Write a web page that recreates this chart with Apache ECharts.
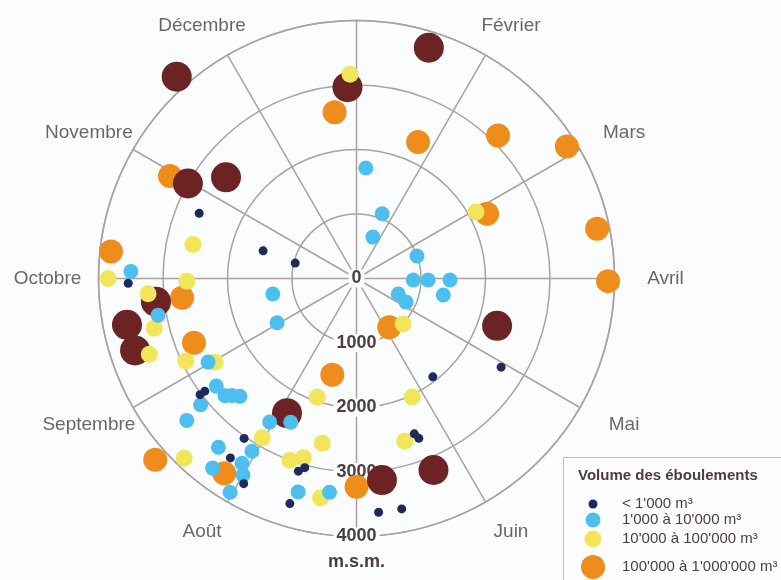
<!DOCTYPE html>
<html>
<head>
<meta charset="utf-8">
<script src="https://cdn.jsdelivr.net/npm/echarts@6/dist/echarts.min.js"></script>
<style>
  html, body { margin: 0; padding: 0; background: #fbfcfd; }
  #chart { width: 781px; height: 580px; }
</style>
</head>
<body>
<div id="chart"></div>
<script>
// Month ring, January at the top, running clockwise
const months = ['Janvier', 'Février', 'Mars', 'Avril', 'Mai', 'Juin',
                'Juillet', 'Août', 'Septembre', 'Octobre', 'Novembre', 'Décembre'];

// Altitude rings (radius axis) and unit
const altitudeTicks = [0, 1000, 2000, 3000, 4000];
const altitudeUnit = 'm.s.m.';

// Legend texts, smallest volume class first
const legendTitle = 'Volume des éboulements';
const classNames = [
  '< 1\'000 m³',
  '1\'000 à 10\'000 m³',
  '10\'000 à 100\'000 m³',
  '100\'000 à 1\'000\'000 m³',
  '> 1\'000\'000 m³'
];

// Rockfalls: [altitude in m, position in the year in months (0 = start of Janvier)]
const volUnder1k = [
  [2640, 9.75], [1510, 9.55], [980, 9.47], [3540, 8.96], [2930, 7.78], [3020, 7.78],
  [3030, 7.17], [3400, 7.17], [3630, 6.96], [3120, 6.56], [3040, 6.51], [3640, 6.55],
  [3640, 5.82], [3640, 5.63], [2570, 5.32], [2660, 5.29], [1930, 4.74], [2630, 4.05]
];
const vol1kTo10k = [
  [1720, 0.16], [1080, 0.72], [690, 0.72], [1000, 2.32], [880, 3.05], [1110, 3.04],
  [1450, 3.03], [1370, 3.36], [690, 3.68], [850, 3.85], [1320, 8.65], [1410, 8.03],
  [3500, 9.06], [3130, 8.65], [2640, 8.02], [2740, 7.75], [2730, 7.61], [2650, 7.56],
  [2570, 7.49], [3110, 7.70], [3430, 7.67], [2600, 7.04], [2450, 6.82], [3380, 7.31],
  [3130, 7.04], [3370, 7.06], [3690, 7.24], [3520, 7.00], [3850, 7.02], [3430, 6.51],
  [3340, 6.24]
];
const vol10kTo100k = [
  [3170, 11.94], [2590, 9.39], [3850, 9.00], [2630, 8.97], [3240, 8.86], [3230, 8.54],
  [3420, 8.33], [2940, 8.14], [2550, 7.98], [1940, 6.61], [2870, 7.02], [2610, 6.39],
  [3860, 7.46], [3000, 6.67], [2900, 6.55], [3450, 6.31], [2120, 2.03], [1010, 4.48],
  [2030, 5.16], [2630, 5.45]
];
const vol100kTo1M = [
  [2600, 11.75], [2320, 0.81], [3120, 1.49], [3850, 1.93], [2260, 2.12], [3810, 2.61],
  [3900, 3.02], [910, 4.87], [1540, 6.47], [3230, 6.00], [3650, 7.14], [4200, 7.60],
  [2710, 8.28], [2720, 8.79], [3830, 9.21], [3300, 9.96]
];
const volOver1M = [
  [4190, 10.61], [2970, 11.91], [3750, 0.58], [3000, 9.98], [2560, 10.26], [3130, 8.78],
  [3630, 8.62], [3610, 8.40], [2350, 6.91], [3150, 5.76], [3200, 5.27], [2300, 3.62]
];

const INK = '#4a3e3e';
const GRID = '#aaa29e';
const FONT = '"Liberation Sans", Arial, sans-serif';
const BG = '#fbfcfd';

// The angle axis runs from Juillet (bottom) round to Juillet, so the radius
// axis with its altitude labels points straight down; second-half months map to negatives.
const toAngle = m => (m >= 6 ? m - 12 : m);
const toPolar = arr => arr.map(d => [d[0], toAngle(d[1])]);

// Volume classes: draw order puts the small dots above the large ones
const classStyles = [
  { data: volUnder1k,   color: '#1c2b5c', size: 9,  z: 6 },
  { data: vol1kTo10k,   color: '#4dbfee', size: 15, z: 5 },
  { data: vol10kTo100k, color: '#f1e65a', size: 17, z: 4 },
  { data: vol100kTo1M,  color: '#ee8d1c', size: 24, z: 2 },
  { data: volOver1M,    color: '#6b2323', size: 30, z: 3 }
];

// Legend layout: marker column centre and row centres
const legendMarkerX = 593;
const legendRows = [501, 520, 539, 567, 602];

// Month labels sit on an outer ring, pushed outwards a little more on the
// left and right where the words run along the ring
const monthRingSpread = 17;
const unitClearance = 19;

const chart = echarts.init(document.getElementById('chart'), null, { renderer: 'canvas' });

const series = classStyles.map((c, i) => ({
  name: classNames[i],
  type: 'scatter',
  coordinateSystem: 'polar',
  polarIndex: 0,
  symbol: 'circle',
  symbolSize: c.size,
  clip: false,
  z: c.z,
  itemStyle: { color: c.color, opacity: 1 },
  data: toPolar(c.data)
}));

series.push({
  type: 'scatter',
  coordinateSystem: 'polar',
  polarIndex: 1,
  symbolSize: 1,
  clip: false,
  silent: true,
  itemStyle: { color: 'rgba(0,0,0,0)' },
  label: {
    show: true,
    position: 'inside',
    formatter: p => months[p.dataIndex],
    color: INK,
    fontSize: 19,
    fontFamily: FONT
  },
  data: months.map((m, i) => ({
    value: [1, toAngle(i)],
    label: {
      offset: [
        monthRingSpread * Math.sin(i * Math.PI / 6),
        i === 6 ? unitClearance : 0
      ]
    }
  }))
});

const legends = classStyles.map((c, i) => ({
  data: [{ name: classNames[i], icon: 'circle' }],
  left: legendMarkerX - c.size / 2,
  top: legendRows[i] - c.size / 2,
  itemWidth: 48,
  itemHeight: c.size,
  padding: 0,
  selectedMode: false,
  textStyle: { color: INK, fontSize: 15, fontFamily: FONT }
}));

chart.setOption({
  backgroundColor: BG,
  animation: false,
  title: {
    text: legendTitle,
    left: 578,
    top: 468,
    padding: 0,
    textStyle: { color: INK, fontSize: 15, fontWeight: 'bold', fontFamily: FONT }
  },
  legend: legends,
  graphic: [{
    type: 'rect',
    z: -10,
    shape: { x: 563.5, y: 457.5, width: 260, height: 160 },
    style: { fill: '#fdfdfd', stroke: '#c2bcb9', lineWidth: 1 }
  }],
  polar: [
    { center: [356.5, 278.5], radius: 258 },
    { center: [356.5, 278.5], radius: 292 }
  ],
  angleAxis: [
    {
      polarIndex: 0,
      type: 'value',
      min: -6, max: 6, interval: 1,
      startAngle: 270,
      clockwise: true,
      axisLine: { show: true, lineStyle: { color: GRID, width: 1.5 } },
      axisTick: { show: false },
      axisLabel: { show: false },
      splitLine: { show: true, lineStyle: { color: GRID, width: 1.5 } }
    },
    {
      polarIndex: 1,
      type: 'value',
      min: -6, max: 6,
      startAngle: 270,
      clockwise: true,
      show: false
    }
  ],
  radiusAxis: [
    {
      polarIndex: 0,
      type: 'value',
      min: altitudeTicks[0],
      max: altitudeTicks[altitudeTicks.length - 1],
      interval: altitudeTicks[1] - altitudeTicks[0],
      axisLine: { show: false },
      axisTick: { show: false },
      axisLabel: {
        show: true,
        margin: 0,
        align: 'center',
        verticalAlign: 'middle',
        formatter: v => String(v),
        color: INK,
        fontSize: 18,
        fontWeight: 'bold',
        fontFamily: FONT,
        backgroundColor: BG,
        padding: [0, 3]
      },
      splitLine: { show: true, lineStyle: { color: GRID, width: 1.5 } },
      name: altitudeUnit,
      nameLocation: 'end',
      nameGap: 26,
      nameTextStyle: {
        align: 'center',
        verticalAlign: 'middle',
        color: INK,
        fontSize: 18,
        fontWeight: 'bold',
        fontFamily: FONT
      }
    },
    {
      polarIndex: 1,
      type: 'value',
      min: 0, max: 1,
      show: false
    }
  ],
  series: series
});
</script>
</body>
</html>
